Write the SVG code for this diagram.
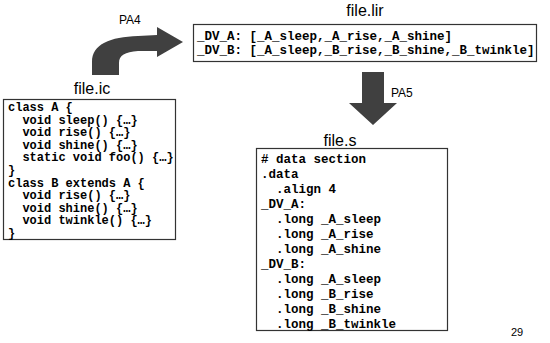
<svg xmlns="http://www.w3.org/2000/svg" width="550" height="343" viewBox="0 0 550 343">
  <style>
    .title { font-family: "Liberation Sans", Arial, sans-serif; font-size: 16px; fill: #000; text-anchor: middle; }
    .label { font-family: "Liberation Sans", Arial, sans-serif; font-size: 12px; fill: #000; }
    .page { font-family: "Liberation Sans", Arial, sans-serif; font-size: 11px; fill: #000; }
    .code { font-family: "Liberation Mono", "Courier New", monospace; font-size: 12px; font-weight: bold; fill: #000; white-space: pre; }
    .wide { font-size: 12.5px; }
    .box { fill: #fff; stroke: #333; stroke-width: 1.2; }
    .arrow { fill: #404040; }
  </style>

  <rect width="550" height="343" fill="#fff"/>

  <!-- transformation arrows -->
  <g id="connectors">
    <path class="arrow" d="M92,75 L92,62 C92,44 110,37 138,36 L157,35 L157,27 L183,42 L157,57 L157,51 L138,51 C125,52 119,55 119,63 L119,75 Z"/>
    <text class="label" x="119" y="24">PA4</text>
    <path class="arrow" d="M362,72 L384,72 L384,103 L397,103 L373,125 L349,103 L362,103 Z"/>
    <text class="label" x="391" y="97">PA5</text>
  </g>

  <!-- source file -->
  <g id="file-ic">
    <text class="title" x="92" y="94">file.ic</text>
    <rect class="box" x="3.5" y="99.5" width="172" height="140"/>
    <text class="code" xml:space="preserve">
      <tspan x="8" y="111">class A {</tspan>
      <tspan x="8" y="123.6">  void sleep() {…}</tspan>
      <tspan x="8" y="136.2">  void rise() {…}</tspan>
      <tspan x="8" y="148.8">  void shine() {…}</tspan>
      <tspan x="8" y="161.4">  static void foo() {…}</tspan>
      <tspan x="8" y="174">}</tspan>
      <tspan x="8" y="186.6">class B extends A {</tspan>
      <tspan x="8" y="199.2">  void rise() {…}</tspan>
      <tspan x="8" y="211.8">  void shine() {…}</tspan>
      <tspan x="8" y="224.4">  void twinkle() {…}</tspan>
      <tspan x="8" y="237">}</tspan>
    </text>
  </g>

  <!-- intermediate representation -->
  <g id="file-lir">
    <text class="title" x="365" y="16">file.lir</text>
    <rect class="box" x="193.5" y="24.5" width="343" height="37"/>
    <text class="code wide" xml:space="preserve">
      <tspan x="197" y="40">_DV_A: [_A_sleep,_A_rise,_A_shine]</tspan>
      <tspan x="197" y="54">_DV_B: [_A_sleep,_B_rise,_B_shine,_B_twinkle]</tspan>
    </text>
  </g>

  <!-- assembly output -->
  <g id="file-s">
    <text class="title" x="340" y="146">file.s</text>
    <rect class="box" x="256.5" y="148.5" width="191" height="182"/>
    <text class="code wide" xml:space="preserve">
      <tspan x="261" y="163"># data section</tspan>
      <tspan x="261" y="178">.data</tspan>
      <tspan x="261" y="193">  .align 4</tspan>
      <tspan x="261" y="208">_DV_A:</tspan>
      <tspan x="261" y="223">  .long _A_sleep</tspan>
      <tspan x="261" y="238">  .long _A_rise</tspan>
      <tspan x="261" y="253">  .long _A_shine</tspan>
      <tspan x="261" y="268">_DV_B:</tspan>
      <tspan x="261" y="283">  .long _A_sleep</tspan>
      <tspan x="261" y="298">  .long _B_rise</tspan>
      <tspan x="261" y="313">  .long _B_shine</tspan>
      <tspan x="261" y="328">  .long _B_twinkle</tspan>
    </text>
  </g>

  <text class="page" x="511" y="336">29</text>
</svg>
